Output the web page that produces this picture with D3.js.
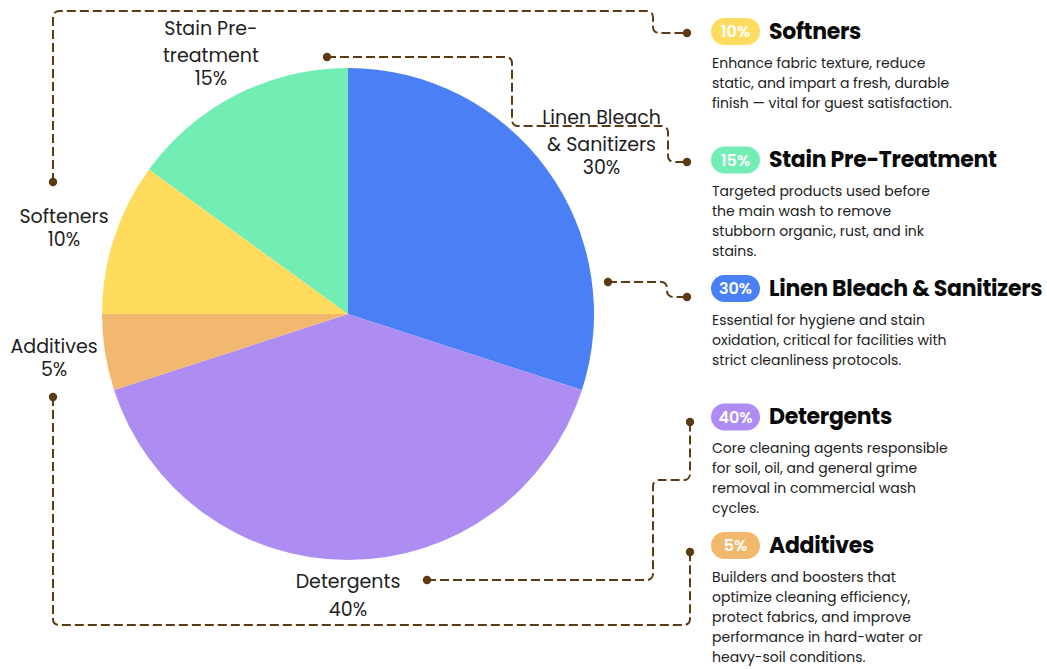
<!DOCTYPE html>
<html>
<head>
<meta charset="utf-8">
<script src="https://cdn.jsdelivr.net/npm/d3@7"></script>
<style>
  body { margin: 0; background: #fff; }
  svg { display: block; font-family: Poppins, Inter, "Open Sans", sans-serif; }
</style>
</head>
<body>
<script>
// pie slices, clockwise from 12 o'clock
var sliceNames = ["Linen Bleach & Sanitizers", "Detergents", "Additives", "Softeners", "Stain Pre-treatment"];
var sliceShares = [30, 40, 5, 10, 15];
var sliceLabelLines = [["Linen Bleach", "& Sanitizers"], ["Detergents"], ["Additives"], ["Softeners"], ["Stain Pre-", "treatment"]];
var sliceColors = ["#4b7ff5", "#ae8df3", "#f2b86f", "#ffdc5e", "#72eeb5"];

// side panel, top to bottom
var panelTitles = ["Softners", "Stain Pre-Treatment", "Linen Bleach & Sanitizers", "Detergents", "Additives"];
var panelShares = [10, 15, 30, 40, 5];
var panelColors = ["#ffdc60", "#72edb4", "#4a80f5", "#ae8cf3", "#f2b96e"];
var panelText = [
  ["Enhance fabric texture, reduce", "static, and impart a fresh, durable", "finish \u2014 vital for guest satisfaction."],
  ["Targeted products used before", "the main wash to remove", "stubborn organic, rust, and ink", "stains."],
  ["Essential for hygiene and stain", "oxidation, critical for facilities with", "strict cleanliness protocols."],
  ["Core cleaning agents responsible", "for soil, oil, and general grime", "removal in commercial wash", "cycles."],
  ["Builders and boosters that", "optimize cleaning efficiency,", "protect fabrics, and improve", "performance in hard-water or", "heavy-soil conditions."]
];

// dashed leader routes (label side -> panel side)
var connectorRoutes = [
  [[53, 182], [53, 11], [653, 11], [653, 33], [687, 33]],
  [[327, 57], [512, 57], [512, 126], [668, 126], [668, 162], [687, 162]],
  [[608, 282], [667, 282], [667, 297], [687, 297]],
  [[427, 580], [653, 580], [653, 480], [690, 480], [690, 422]],
  [[53, 397], [53, 625], [690, 625], [690, 552]]
];

var width = 1047, height = 669;
var cx = 348, cy = 314, radius = 246;
var lineColor = "#5c3b14";

var svg = d3.select("body").append("svg")
    .attr("width", width)
    .attr("height", height);

// pie
var pie = d3.pie().sort(null).value(function(d) { return d; });
var arcs = pie(sliceShares);
var arc = d3.arc().innerRadius(0).outerRadius(radius);

var g = svg.append("g").attr("transform", "translate(" + cx + "," + cy + ")");

g.selectAll("path.slice")
    .data(arcs)
  .enter().append("path")
    .attr("class", "slice")
    .attr("d", arc)
    .attr("fill", function(d, i) { return sliceColors[i]; });

// outside labels: box corner sits on an anchor ring just outside the pie
var labelRing = 254;
g.selectAll("text.lbl")
    .data(arcs)
  .enter().append("text")
    .attr("class", "lbl")
    .attr("text-anchor", "middle")
    .attr("font-size", 19)
    .attr("fill", "#1e1e1e")
    .each(function(d, i) {
      var mid = (d.startAngle + d.endAngle) / 2;
      var t = d3.select(this);
      var names = sliceLabelLines[i];
      var y = 0;
      names.forEach(function(s, k) {
        if (k > 0) y += 27;
        t.append("tspan").attr("x", 0).attr("y", y).attr("dy", "0.35em").text(s);
      });
      y += Math.abs(Math.cos(mid)) > 0.95 ? 28 : 23;
      t.append("tspan").attr("x", 0).attr("y", y).attr("dy", "0.35em").text(sliceShares[i] + "%");
      var b = this.getBBox();
      var ax = Math.sin(mid) * labelRing, ay = -Math.cos(mid) * labelRing;
      var tx = ax + Math.sin(mid) * b.width / 2;
      var ty = ay - Math.cos(mid) * b.height / 2 - (b.y + b.height / 2);
      t.attr("transform", "translate(" + tx + "," + ty + ")");
    });

// leader lines with rounded corners
function roundedPath(pts, rad) {
  var p = d3.path();
  p.moveTo(pts[0][0], pts[0][1]);
  for (var i = 1; i < pts.length - 1; i++) {
    p.arcTo(pts[i][0], pts[i][1], pts[i + 1][0], pts[i + 1][1], rad);
  }
  var last = pts[pts.length - 1];
  p.lineTo(last[0], last[1]);
  return p.toString();
}

var conn = svg.append("g");
conn.selectAll("path")
    .data(connectorRoutes)
  .enter().append("path")
    .attr("d", function(d) { return roundedPath(d, 6); })
    .attr("fill", "none")
    .attr("stroke", lineColor)
    .attr("stroke-width", 2)
    .attr("stroke-dasharray", "9,4");

connectorRoutes.forEach(function(r) {
  [r[0], r[r.length - 1]].forEach(function(p) {
    conn.append("circle")
      .attr("cx", p[0]).attr("cy", p[1]).attr("r", 4.2)
      .attr("fill", lineColor);
  });
});

// side panel
var rowY = d3.scaleLinear().domain([0, panelTitles.length - 1]).range([31, 545]);

var rows = svg.selectAll("g.row")
    .data(panelTitles)
  .enter().append("g")
    .attr("class", "row")
    .attr("transform", function(d, i) { return "translate(711," + rowY(i) + ")"; });

rows.append("rect")
    .attr("x", 0).attr("y", -13)
    .attr("width", 49).attr("height", 27)
    .attr("rx", 13.5)
    .attr("fill", function(d, i) { return panelColors[i]; });

rows.append("text")
    .attr("x", 24.5)
    .attr("y", 0.5)
    .attr("dy", "0.36em")
    .attr("text-anchor", "middle")
    .attr("font-size", 16)
    .attr("font-weight", 600)
    .attr("fill", "#fff")
    .text(function(d, i) { return panelShares[i] + "%"; });

rows.append("text")
    .attr("x", 58)
    .attr("dy", "0.36em")
    .attr("font-size", 22)
    .attr("font-weight", 700)
    .attr("letter-spacing", -0.3)
    .attr("fill", "#0a0a0a")
    .text(function(d) { return d; });

rows.each(function(d, i) {
  var t = d3.select(this).append("text")
    .attr("font-size", 14)
    .attr("fill", "#222");
  panelText[i].forEach(function(s, k) {
    t.append("tspan")
      .attr("x", 1)
      .attr("y", 32 + k * 20)
      .attr("dy", "0.35em")
      .text(s);
  });
});
</script>
</body>
</html>
